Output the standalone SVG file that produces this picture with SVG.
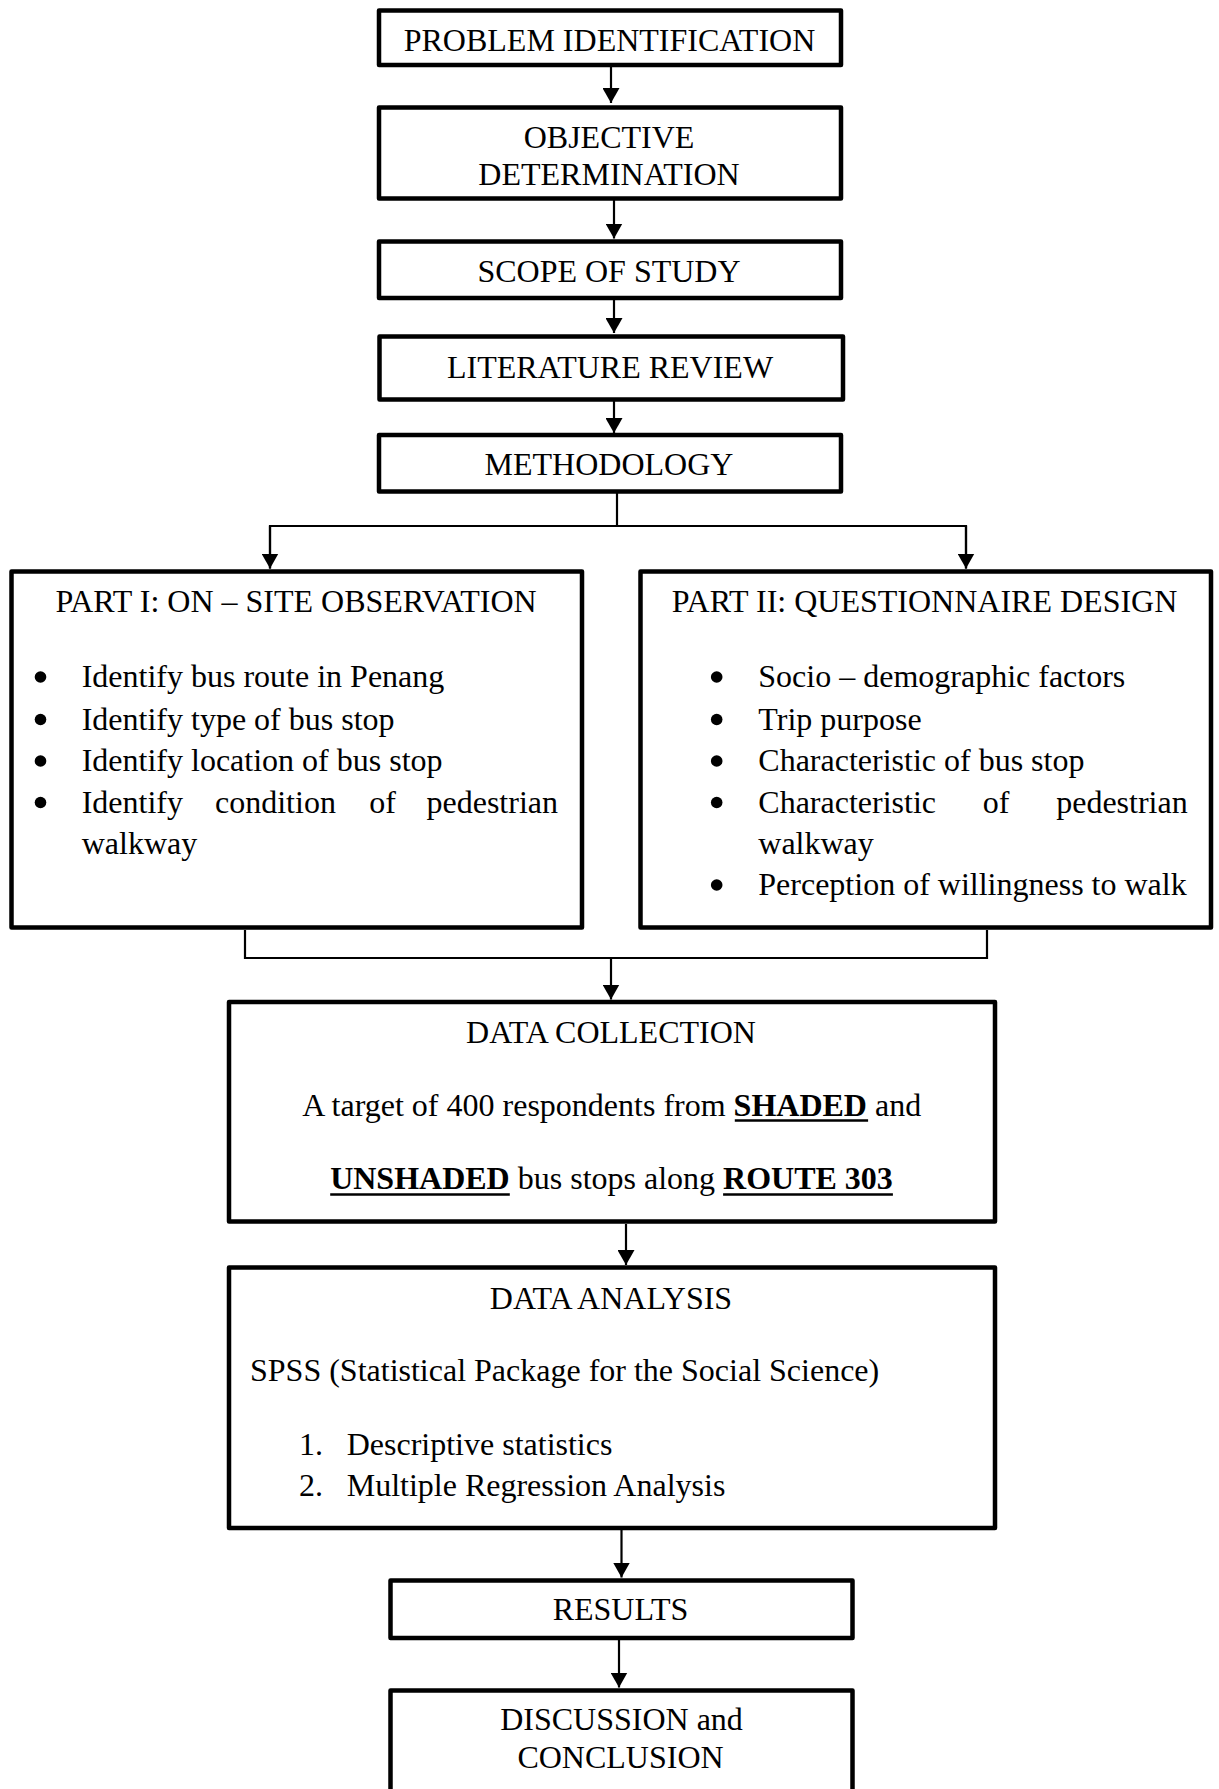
<svg xmlns="http://www.w3.org/2000/svg" width="1219" height="1789" viewBox="0 0 1219 1789">
<style>
  .box { fill: #ffffff; stroke: #000000; stroke-width: 4.5; stroke-linejoin: round; }
  .t { font-family: "Liberation Serif", "Times New Roman", serif; font-size: 32px; fill: #000000; }
  .c { text-anchor: middle; }
  .e { text-anchor: end; }
  .b { font-weight: bold; }
  .ln { fill: none; stroke: #000000; stroke-width: 2.2; }
  .ul { stroke: #000000; stroke-width: 2.6; }
  .dot { fill: #000000; }
</style>
<defs>
  <marker id="arr" viewBox="0 0 15 17" refX="15" refY="8.5" markerWidth="15" markerHeight="17" markerUnits="userSpaceOnUse" orient="auto">
    <path d="M0,0 L15,8.5 L0,17 z" fill="#000000"/>
  </marker>
</defs>
<rect width="1219" height="1789" fill="#ffffff"/>

<g id="connectors">
  <line class="ln" x1="611" y1="67" x2="611" y2="103" marker-end="url(#arr)"/>
  <line class="ln" x1="614" y1="200" x2="614" y2="238.5" marker-end="url(#arr)"/>
  <line class="ln" x1="614" y1="300" x2="614" y2="333" marker-end="url(#arr)"/>
  <line class="ln" x1="614" y1="401" x2="614" y2="433" marker-end="url(#arr)"/>
  <polyline class="ln" points="617,493 617,526"/>
  <polyline class="ln" points="270,568.5 270,526 966,526 966,568.5"/>
  <line class="ln" x1="270" y1="526" x2="270" y2="568.5" marker-end="url(#arr)"/>
  <line class="ln" x1="966" y1="526" x2="966" y2="568.5" marker-end="url(#arr)"/>
  <polyline class="ln" points="245,930 245,958 987,958 987,930"/>
  <line class="ln" x1="611" y1="958" x2="611" y2="999.5" marker-end="url(#arr)"/>
  <line class="ln" x1="626" y1="1224" x2="626" y2="1265" marker-end="url(#arr)"/>
  <line class="ln" x1="621.5" y1="1530" x2="621.5" y2="1577.5" marker-end="url(#arr)"/>
  <line class="ln" x1="619" y1="1640" x2="619" y2="1687.5" marker-end="url(#arr)"/>
</g>

<g id="problem-identification">
  <rect class="box" x="379" y="10.5" width="462" height="54.5"/>
  <text class="t c" x="609.5" y="51">PROBLEM IDENTIFICATION</text>
</g>

<g id="objective-determination">
  <rect class="box" x="379" y="107.5" width="462" height="91"/>
  <text class="t c" x="609" y="148">OBJECTIVE</text>
  <text class="t c" x="609" y="185">DETERMINATION</text>
</g>

<g id="scope-of-study">
  <rect class="box" x="379" y="241.5" width="462" height="56.5"/>
  <text class="t c" x="609" y="282">SCOPE OF STUDY</text>
</g>

<g id="literature-review">
  <rect class="box" x="379.5" y="336.5" width="463.5" height="63"/>
  <text class="t c" x="610" y="378">LITERATURE REVIEW</text>
</g>

<g id="methodology">
  <rect class="box" x="379" y="435" width="462" height="56.5"/>
  <text class="t c" x="609" y="475">METHODOLOGY</text>
</g>

<g id="part-1">
  <rect class="box" x="11.5" y="571.5" width="570.5" height="356"/>
  <text class="t c" x="296" y="612">PART I: ON – SITE OBSERVATION</text>
  <circle class="dot" cx="40.5" cy="677" r="5.8"/>
  <text class="t" x="81.7" y="687">Identify bus route in Penang</text>
  <circle class="dot" cx="40.5" cy="719.5" r="5.8"/>
  <text class="t" x="81.7" y="729.5">Identify type of bus stop</text>
  <circle class="dot" cx="40.5" cy="761" r="5.8"/>
  <text class="t" x="81.7" y="771">Identify location of bus stop</text>
  <circle class="dot" cx="40.5" cy="802.5" r="5.8"/>
  <text class="t" x="81.7" y="812.5">Identify</text>
  <text class="t" x="215" y="812.5">condition</text>
  <text class="t" x="369.3" y="812.5">of</text>
  <text class="t e" x="558" y="812.5">pedestrian</text>
  <text class="t" x="81.7" y="853.5">walkway</text>
</g>

<g id="part-2">
  <rect class="box" x="640.5" y="571.5" width="570.5" height="356"/>
  <text class="t c" x="924.5" y="612">PART II: QUESTIONNAIRE DESIGN</text>
  <circle class="dot" cx="716.7" cy="677" r="5.8"/>
  <text class="t" x="758.3" y="687">Socio – demographic factors</text>
  <circle class="dot" cx="716.7" cy="719.5" r="5.8"/>
  <text class="t" x="758.3" y="729.5">Trip purpose</text>
  <circle class="dot" cx="716.7" cy="761" r="5.8"/>
  <text class="t" x="758.3" y="771">Characteristic of bus stop</text>
  <circle class="dot" cx="716.7" cy="802.5" r="5.8"/>
  <text class="t" x="758.3" y="812.5">Characteristic</text>
  <text class="t" x="982.7" y="812.5">of</text>
  <text class="t e" x="1187.7" y="812.5">pedestrian</text>
  <text class="t" x="758.3" y="853.5">walkway</text>
  <circle class="dot" cx="716.7" cy="885" r="5.8"/>
  <text class="t" x="758.3" y="895">Perception of willingness to walk</text>
</g>

<g id="data-collection">
  <rect class="box" x="229" y="1002" width="766" height="219.5"/>
  <text class="t c" x="611" y="1043">DATA COLLECTION</text>
  <text class="t c" x="611.7" y="1116">A target of 400 respondents from <tspan class="b">SHADED</tspan> and</text>
  <line class="ul" x1="734.8" y1="1120.5" x2="868.1" y2="1120.5"/>
  <text class="t c" x="611.5" y="1189"><tspan class="b">UNSHADED</tspan> bus stops along <tspan class="b">ROUTE 303</tspan></text>
  <line class="ul" x1="330.2" y1="1194.5" x2="509.8" y2="1194.5"/>
  <line class="ul" x1="723.1" y1="1194.5" x2="892.9" y2="1194.5"/>
</g>

<g id="data-analysis">
  <rect class="box" x="229" y="1267.5" width="766" height="260.5"/>
  <text class="t c" x="611" y="1309">DATA ANALYSIS</text>
  <text class="t" x="250" y="1381">SPSS (Statistical Package for the Social Science)</text>
  <text class="t" x="299" y="1455">1.</text>
  <text class="t" x="346.7" y="1455">Descriptive statistics</text>
  <text class="t" x="299" y="1495.5">2.</text>
  <text class="t" x="346.7" y="1495.5">Multiple Regression Analysis</text>
</g>

<g id="results">
  <rect class="box" x="390.5" y="1580.5" width="462" height="57.5"/>
  <text class="t c" x="620.5" y="1620">RESULTS</text>
</g>

<g id="discussion-conclusion">
  <rect class="box" x="390.5" y="1690.5" width="462" height="200"/>
  <text class="t c" x="621.5" y="1730">DISCUSSION and</text>
  <text class="t c" x="620.5" y="1768">CONCLUSION</text>
</g>
</svg>
